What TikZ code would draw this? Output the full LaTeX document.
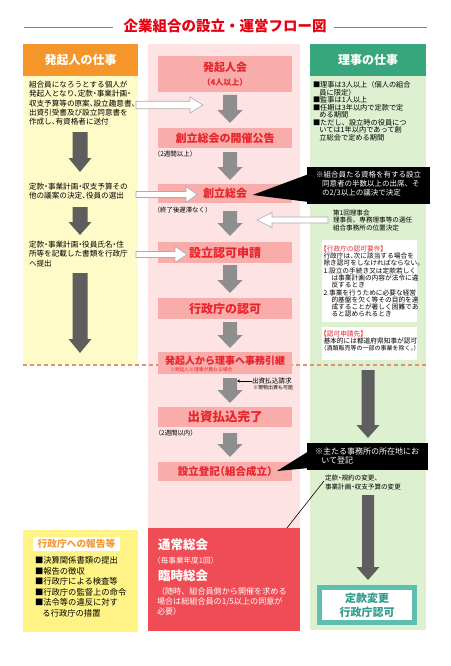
\documentclass[tikz,border=0pt]{standalone}
\usepackage{fontspec}
\setmainfont{Noto Sans CJK JP}
\newfontfamily\jph[RawFeature=+halt]{Noto Sans CJK JP}
\usetikzlibrary{arrows.meta}

\definecolor{titlered}{HTML}{E60012}
\definecolor{titleline}{HTML}{E05A5A}
\definecolor{orangeH}{HTML}{F5962A}
\definecolor{yellowbg}{HTML}{FEFBC8}
\definecolor{pinkbg}{HTML}{FDE3E3}
\definecolor{salmon}{HTML}{F8ADAB}
\definecolor{boxred}{HTML}{E8242C}
\definecolor{greenH}{HTML}{37A67D}
\definecolor{greenbg}{HTML}{DDF0D0}
\definecolor{redbox}{HTML}{EF4C56}
\definecolor{ybox}{HTML}{FEF384}
\definecolor{tealB}{HTML}{5DBFB0}
\definecolor{tealT}{HTML}{2F9C8C}
\definecolor{darkarrow}{HTML}{5E5E5E}
\definecolor{grayarrow}{HTML}{8E8E8E}
\definecolor{dashc}{HTML}{E3906E}
\definecolor{reportO}{HTML}{F39A34}

\newcommand\fsz[2]{\fontsize{#1}{#2}\selectfont}
% vertical block arrow: x, ytop, ytip, shaft, headwidth, headlength, style
\newcommand\varr[7]{\fill[#7] ({#1-#4/2},#2) -- ({#1+#4/2},#2) -- ({#1+#4/2},{#3-#6}) -- ({#1+#5/2},{#3-#6}) -- (#1,#3) -- ({#1-#5/2},{#3-#6}) -- ({#1-#4/2},{#3-#6}) -- cycle;}
% horizontal block arrow: xstart, xtip, y, shaft, headheight, headlength(signed), style
\newcommand\harr[7]{\filldraw[#7] (#1,{#3-#4/2}) -- ({#2-#6},{#3-#4/2}) -- ({#2-#6},{#3-#5/2}) -- (#2,#3) -- ({#2-#6},{#3+#5/2}) -- ({#2-#6},{#3+#4/2}) -- (#1,{#3+#4/2}) -- cycle;}

\begin{document}
\begin{tikzpicture}[x=1pt,y=-1pt,
  every node/.style={inner sep=0pt,outer sep=0pt},
  colhead/.style={text=white,font=\bfseries\fsz{12}{14},minimum width=116pt,minimum height=32pt,anchor=north west},
  cbox/.style={fill=salmon,text=boxred,font=\bfseries\fsz{11}{13},minimum width=134pt,anchor=north west},
  ltext/.style={anchor=north west,align=left,font=\jph\fsz{7.6}{9.3}},
  rtext/.style={anchor=north west,align=left,font=\fsz{7.2}{7.5}},
  smalllab/.style={anchor=west,font=\jph\fsz{6.5}{8}},
  hollow/.style={fill=white,draw=gray!65,line width=0.6pt},
  callout/.style={fill=black},
]
\useasboundingbox[fill=white] (0,0) rectangle (450,666);

% title
\node[font=\bfseries\fsz{14.5}{16},text=titlered] (title) at (225,26) {企業組合の設立・運営フロー図};
\draw[titleline,line width=0.8pt] (24,27) -- (113,27);
\draw[titleline,line width=0.8pt] (334,27) -- (427,27);

% backgrounds
\fill[yellowbg] (23,76) rectangle (138,365);
\fill[pinkbg] (148,44) rectangle (300,528);
\fill[greenbg] (310,76) rectangle (426,630);

% column heads
\node[colhead,fill=orangeH,minimum width=115pt] (lhead) at (23,44) {発起人の仕事};
\node[colhead,fill=greenH] (rhead) at (310,44) {理事の仕事};

% dashed separator
\draw[dashc,line width=1.1pt,dash pattern=on 4pt off 3pt] (23,365) -- (428,365);

% ---------------- left column
\node[ltext] (l1) at (29,81) {組合員になろうとする個人が\\発起人となり、定款・事業計画・\\収支予算等の原案、設立趣意書、\\出資引受書及び設立同意書を\\作成し、有資格者に送付};
\varr{80}{132}{172}{15}{23}{14}{darkarrow}
\node[ltext] (l2) at (29,183) {定款・事業計画・収支予算その\\他の議案の決定、役員の選出};
\varr{80}{207}{235}{15}{23}{13}{darkarrow}
\node[ltext] (l3) at (29,241) {定款・事業計画・役員氏名・住\\所等を記載した書類を行政庁\\へ提出};
\varr{80}{273}{353}{15}{23}{14}{darkarrow}

% ---------------- center column
\node[cbox,minimum height=36pt,align=center,font=\bfseries\fsz{11}{14}] (b1) at (158,56) {発起人会\\{\jph\fsz{8}{14}（4人以上）}};
\varr{230}{95}{123}{14}{25}{13}{grayarrow}
\node[cbox,minimum height=20pt] (b2) at (158,128) {創立総会の開催公告};
\node[smalllab] (n2) at (157,154) {（2週間以上）};
\varr{230}{152}{180}{14}{25}{13}{grayarrow}
\node[cbox,minimum height=19pt] (b3) at (158,184) {創立総会};
\node[smalllab,font=\jph\fsz{6.4}{8}] (n3) at (157,210) {（終了後遅滞なく）};
\varr{230}{211}{236}{14}{25}{13}{grayarrow}
\node[cbox,minimum height=21pt,font=\bfseries\fsz{12}{13}] (b4) at (158,242) {設立認可申請};
\varr{230}{265}{293}{14}{25}{13}{grayarrow}
\node[cbox,minimum height=21pt,font=\bfseries\fsz{12}{13}] (b5) at (158,298) {行政庁の認可};
\varr{230}{322}{348}{14}{25}{13}{grayarrow}
\node[cbox,minimum height=22pt] (b6) at (158,352) {};
\node[font=\bfseries\fsz{10}{12},text=boxred] (b6t) at (225,360.5) {発起人から理事へ事務引継};
\node[anchor=west,font=\fsz{4.8}{6},text=boxred] (b6s) at (170,369.5) {※発起人と理事が異なる場合};
\varr{230}{378}{403}{14}{25}{13}{grayarrow}
\node[anchor=west,font=\fsz{6.6}{8}] (req) at (252,381) {出資払込請求};
\coordinate (reqtip) at (237,381);
\draw[-{Stealth[length=3pt,width=3pt]},line width=0.6pt] (req.west) -- (reqtip);
\node[anchor=west,font=\fsz{5}{6}] (reqs) at (253,388) {※現物出資も可能};
\node[cbox,minimum height=20pt,font=\bfseries\fsz{12.5}{13}] (b7) at (158,407) {出資払込完了};
\node[smalllab,font=\jph\fsz{6.4}{8}] (n7) at (158,433) {（2週間以内）};
\varr{230}{433}{457}{14}{25}{13}{grayarrow}
\node[cbox,minimum height=19pt,font=\jph\bfseries\fsz{10.5}{13}] (b8) at (158,462) {設立登記（組合成立）};

% hollow arrows
\harr{136}{203}{105}{7.5}{16}{13}{hollow}
\harr{136}{197}{194.5}{6}{16}{11}{hollow}
\harr{136}{187}{254.5}{6}{16}{12}{hollow}
\harr{328}{257}{220}{6}{15}{-15}{hollow}

% ---------------- right column
\node[rtext] (r1) at (313,81.4) {■理事は3人以上（個人の組合\\\hspace*{0.9em}員に限定）\\■監事は1人以上\\■任期は3年以内で定款で定\\\hspace*{0.9em}める期間\\■ただし、設立時の役員につ\\\hspace*{0.9em}いては1年以内であって創\\\hspace*{0.9em}立総会で定める期間};

% callout 1
\fill[callout] (252.5,195) -- (309,174) -- (309,202) -- cycle;
\fill[callout] (307,167) rectangle (430,204);
\node[anchor=north west,align=left,text=white,font=\fsz{7.5}{9}] (c1) at (316,171.3) {※組合員たる資格を有する設立\\\hspace*{0.8em}同意者の半数以上の出席、そ\\\hspace*{0.8em}の2/3以上の議決で決定};

\node[anchor=north west,align=left,font=\fsz{6.6}{7.5}] (r2) at (333,209.8) {第1回理事会\\理事長、専務理事等の選任\\組合事務所の位置決定};

% requirement boxes
\fill[white] (322,240) rectangle (417,322);
\node[anchor=north west,align=left,font=\jph\fsz{6.7}{7.3}] (w1) at (323.5,245.6) {{\color{boxred}【行政庁の認可要件】}\\行政庁は、次に該当する場合を\\除き認可をしなければならない。\\1.設立の手続き又は定款若しく\\\hspace*{1.2em}は事業計画の内容が法令に違\\\hspace*{1.2em}反するとき\\2.事業を行うために必要な経営\\\hspace*{1.2em}的基盤を欠く等その目的を達\\\hspace*{1.2em}成することが著しく困難であ\\\hspace*{1.2em}ると認められるとき};
\fill[white] (322,327) rectangle (417,360);
\node[anchor=north west,align=left,font=\jph\fsz{6.7}{7}] (w2) at (323.5,330.6) {{\color{boxred}【認可申請先】}\\基本的には都道府県知事が認可\\{\fsz{6}{7}（酒類販売等の一部の事業を除く。）}};

\varr{368}{370}{438}{13}{23}{13}{darkarrow}

% callout 2
\fill[callout] (277,471) -- (309,451) -- (309,468) -- cycle;
\fill[callout] (307,443) rectangle (428,470);
\node[anchor=north west,align=left,text=white,font=\fsz{8}{9}] (c2) at (315,448) {※主たる事務所の所在地にお\\\hspace*{0.8em}いて登記};

\node[anchor=north west,align=left,font=\jph\fsz{6.6}{9}] (r3) at (325,474.7) {定款・規約の変更、\\事業計画・収支予算の変更};
\coordinate (ta) at (324,481);
\coordinate (tb) at (283,533);
\draw[-{Stealth[length=5pt,width=4pt]},line width=0.6pt] (ta) -- (tb);

\varr{368}{495}{580}{12}{23}{13}{darkarrow}

\fill[tealB] (317,585) rectangle (417,625);
\node[fill=white,minimum width=90pt,minimum height=30pt,align=center,text=tealT,font=\bfseries\fsz{11}{14},anchor=north west] (tk) at (322,590) {定款変更\\行政庁認可};

% ---------------- bottom left
\fill[ybox] (23,530) rectangle (138,632);
\node[fill=white,minimum width=87pt,minimum height=14pt,anchor=north west,text=reportO,font=\bfseries\fsz{9.7}{11}] (rep) at (33,537) {行政庁への報告等};
\node[anchor=north west,align=left,font=\fsz{8.3}{10.5}] (repl) at (35,556.8) {■決算関係書類の提出\\■報告の徴収\\■行政庁による検査等\\■行政庁の監督上の命令\\■法令等の違反に対す\\\hspace*{0.9em}る行政庁の措置};

% ---------------- bottom center
\fill[redbox] (148,528) rectangle (300,631);
\node[anchor=west,text=white,font=\bfseries\fsz{12.5}{14}] (g1) at (158,545) {通常総会};
\node[anchor=west,text=white,font=\jph\fsz{7.6}{9}] (g1s) at (157,561) {（毎事業年度1回）};
\node[anchor=west,text=white,font=\bfseries\fsz{12.5}{14}] (g2) at (158,576) {臨時総会};
\node[anchor=north west,align=left,text=white,font=\fsz{8.1}{10}] (g2s) at (157,588) {（随時、組合員側から開催を求める\\場合は総組合員の1/5以上の同意が\\必要）};

\end{tikzpicture}
\end{document}
